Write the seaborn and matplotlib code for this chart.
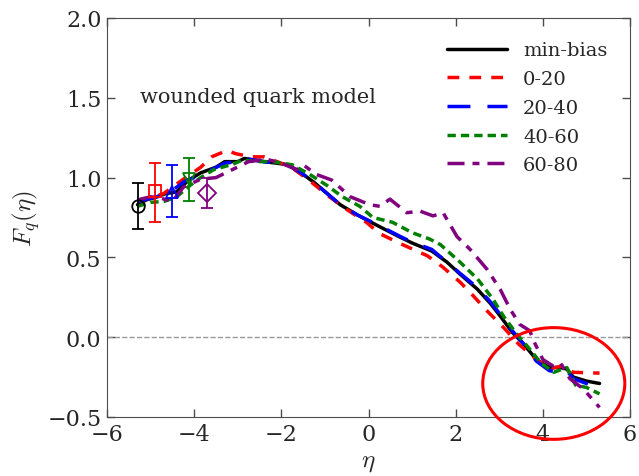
import pandas as pd
import matplotlib.pyplot as plt
import seaborn as sns
from matplotlib.patches import Ellipse

# values
labels = ['min-bias', '0-20', '20-40', '40-60', '60-80']

eta_mb = [-5.3, -5.1, -4.85, -4.65, -4.4, -4.15, -3.85, -3.5, -3.3, -3.0, -2.85, -2.4, -2.1, -1.85,
          -1.55, -1.25, -0.95, -0.65, -0.25, 0.2, 0.7, 1.0, 1.45, 1.8, 2.1, 2.5, 2.8, 3.0, 3.3, 3.55,
          3.85, 4.15, 4.4, 4.55, 4.7, 5.0, 5.3]
f_mb = [0.83, 0.86, 0.88, 0.90, 0.91, 0.98, 1.03, 1.065, 1.10, 1.10, 1.12, 1.10, 1.09, 1.08,
        1.03, 0.97, 0.90, 0.83, 0.765, 0.70, 0.63, 0.59, 0.54, 0.47, 0.395, 0.30, 0.21, 0.14, 0.03, -0.04,
        -0.14, -0.19, -0.19, -0.20, -0.25, -0.275, -0.29]

eta_020 = [-5.3, -5.0, -4.7, -4.3, -3.85, -3.6, -3.25, -3.05, -2.7, -2.4, -2.1, -1.8, -1.35, -0.9,
           -0.5, -0.05, 0.25, 0.7, 1.35, 1.7, 2.1, 2.4, 2.7, 3.1, 3.45, 3.9, 4.2, 4.45, 4.7, 5.3]
f_020 = [0.85, 0.87, 0.90, 0.98, 1.065, 1.13, 1.17, 1.15, 1.13, 1.13, 1.10, 1.07, 0.98, 0.88,
         0.80, 0.72, 0.65, 0.59, 0.51, 0.44, 0.345, 0.26, 0.17, 0.06, -0.045, -0.15, -0.195, -0.18, -0.22, -0.225]

eta_2040 = [-5.3, -5.0, -4.7, -4.45, -4.2, -3.9, -3.6, -3.3, -3.0, -2.85, -2.4, -2.1, -1.85, -1.55,
            -1.25, -0.95, -0.65, -0.25, 0.2, 0.7, 1.0, 1.45, 1.8, 2.1, 2.5, 2.8, 3.0, 3.3, 3.55, 3.85,
            4.15, 4.4, 4.55, 4.7, 5.0, 5.3]
f_2040 = [0.85, 0.87, 0.89, 0.93, 0.98, 1.01, 1.05, 1.09, 1.10, 1.12, 1.10, 1.09, 1.08, 1.03,
          0.97, 0.90, 0.83, 0.765, 0.705, 0.635, 0.595, 0.55, 0.47, 0.40, 0.31, 0.22, 0.15, 0.04, -0.04, -0.15,
          -0.21, -0.22, -0.21, -0.26, -0.29, -0.31]

eta_4060 = [-5.3, -5.0, -4.7, -4.4, -4.1, -3.85, -3.55, -3.1, -2.9, -2.5, -2.2, -1.75, -1.35, -0.95,
            -0.6, -0.2, 0.1, 0.55, 1.0, 1.4, 1.65, 2.1, 2.5, 2.85, 3.1, 3.4, 3.7, 3.95, 4.25, 4.55,
            4.75, 5.0, 5.3]
f_4060 = [0.82, 0.845, 0.85, 0.88, 0.95, 1.0, 1.05, 1.085, 1.11, 1.10, 1.10, 1.08, 1.02, 0.95,
          0.88, 0.82, 0.75, 0.72, 0.655, 0.615, 0.58, 0.47, 0.365, 0.24, 0.13, 0.02, -0.075, -0.16, -0.22, -0.19,
          -0.30, -0.315, -0.355]

eta_6080 = [-5.3, -5.0, -4.75, -4.5, -4.25, -3.85, -3.5, -3.05, -2.75, -2.35, -2.05, -1.65, -1.5, -1.2,
            -0.85, -0.42, 0.03, 0.26, 0.49, 0.88, 1.18, 1.48, 1.71, 2.03, 2.33, 2.72, 3.02, 3.25, 3.47,
            3.7, 3.8, 4.0, 4.23, 4.4, 4.62, 4.93, 5.3]
f_6080 = [0.86, 0.88, 0.87, 0.85, 0.94, 0.99, 1.0, 1.06, 1.10, 1.115, 1.095, 1.05, 1.08, 1.02,
          0.985, 0.88, 0.83, 0.82, 0.865, 0.78, 0.79, 0.76, 0.78, 0.63, 0.55, 0.425, 0.30, 0.175, 0.08,
          0.04, -0.03, -0.14, -0.18, -0.16, -0.26, -0.325, -0.44]

# data points with error bars at the left end
pt_eta = [-5.3, -4.91, -4.51, -4.11, -3.71]
pt_f = [0.823, 0.913, 0.91, 0.994, 0.905]
pt_lo = [0.677, 0.719, 0.756, 0.854, 0.81]
pt_hi = [0.969, 1.094, 1.08, 1.12, 0.996]
pt_markers = ['o', 's', '^', 'v', 'D']

colors = ['black', 'red', 'blue', 'green', 'purple']

series = [(eta_mb, f_mb), (eta_020, f_020), (eta_2040, f_2040), (eta_4060, f_4060), (eta_6080, f_6080)]
frames = []
for lab, (e, f) in zip(labels, series):
    frames.append(pd.DataFrame({'eta': e, 'F': f, 'set': lab}))
df = pd.concat(frames, ignore_index=True)

sns.set_style('ticks')
plt.rcParams['font.family'] = ['DejaVu Serif']
plt.rcParams['mathtext.fontset'] = 'cm'

fig = plt.figure(figsize=(6.39, 4.77), dpi=100)
ax = fig.add_axes([0.1675, 0.1237, 0.8185, 0.8365])

ax.axhline(0, color='0.6', lw=1, ls='--', zorder=1)

# dash lengths are in units of the line width
dashes = {'min-bias': '', '0-20': (3.4, 2.9), '20-40': (6.6, 4.9),
          '40-60': (2.4, 1.45), '60-80': (4.9, 2.3, 2.0, 2.3)}
sns.lineplot(data=df, x='eta', y='F', hue='set', style='set', hue_order=labels, style_order=labels,
             palette=dict(zip(labels, colors)), dashes=dashes, sort=False, estimator=None,
             lw=2.5, ax=ax, zorder=3)

for i in range(len(pt_eta)):
    ax.errorbar(pt_eta[i], pt_f[i], yerr=[[pt_f[i] - pt_lo[i]], [pt_hi[i] - pt_f[i]]],
                fmt=pt_markers[i], mfc='none', mec=colors[i], ecolor=colors[i], ms=9, mew=1.3,
                elinewidth=1.3, capsize=4, capthick=1.3, zorder=4)

# red circle around the crossing region
ax.add_patch(Ellipse((4.25, -0.29), 3.26, 0.70, fill=False, ec='red', lw=2.2, clip_on=False, zorder=5))

ax.text(-5.24, 1.51, 'wounded quark model', fontsize=15, va='center', ha='left')

ax.set_xlim(-6, 6)
ax.set_ylim(-0.5, 2.0)
ax.set_xticks([-6, -4, -2, 0, 2, 4, 6])
ax.set_yticks([-0.5, 0.0, 0.5, 1.0, 1.5, 2.0])
ax.tick_params(direction='in', top=True, right=True, labelsize=16, length=6, width=1, pad=4, color='0.3')
for s in ax.spines.values():
    s.set_color('0.3')
ax.set_xlabel(r'$\eta$', fontsize=18)
ax.set_ylabel(r'$F_q(\eta)$', fontsize=18)

h, l = ax.get_legend_handles_labels()
ax.legend(h, l, loc='upper right', bbox_to_anchor=(0.99, 0.985), frameon=False, fontsize=14,
          handlelength=3.1, labelspacing=0.55)

fig.savefig('out.png', dpi=100)
